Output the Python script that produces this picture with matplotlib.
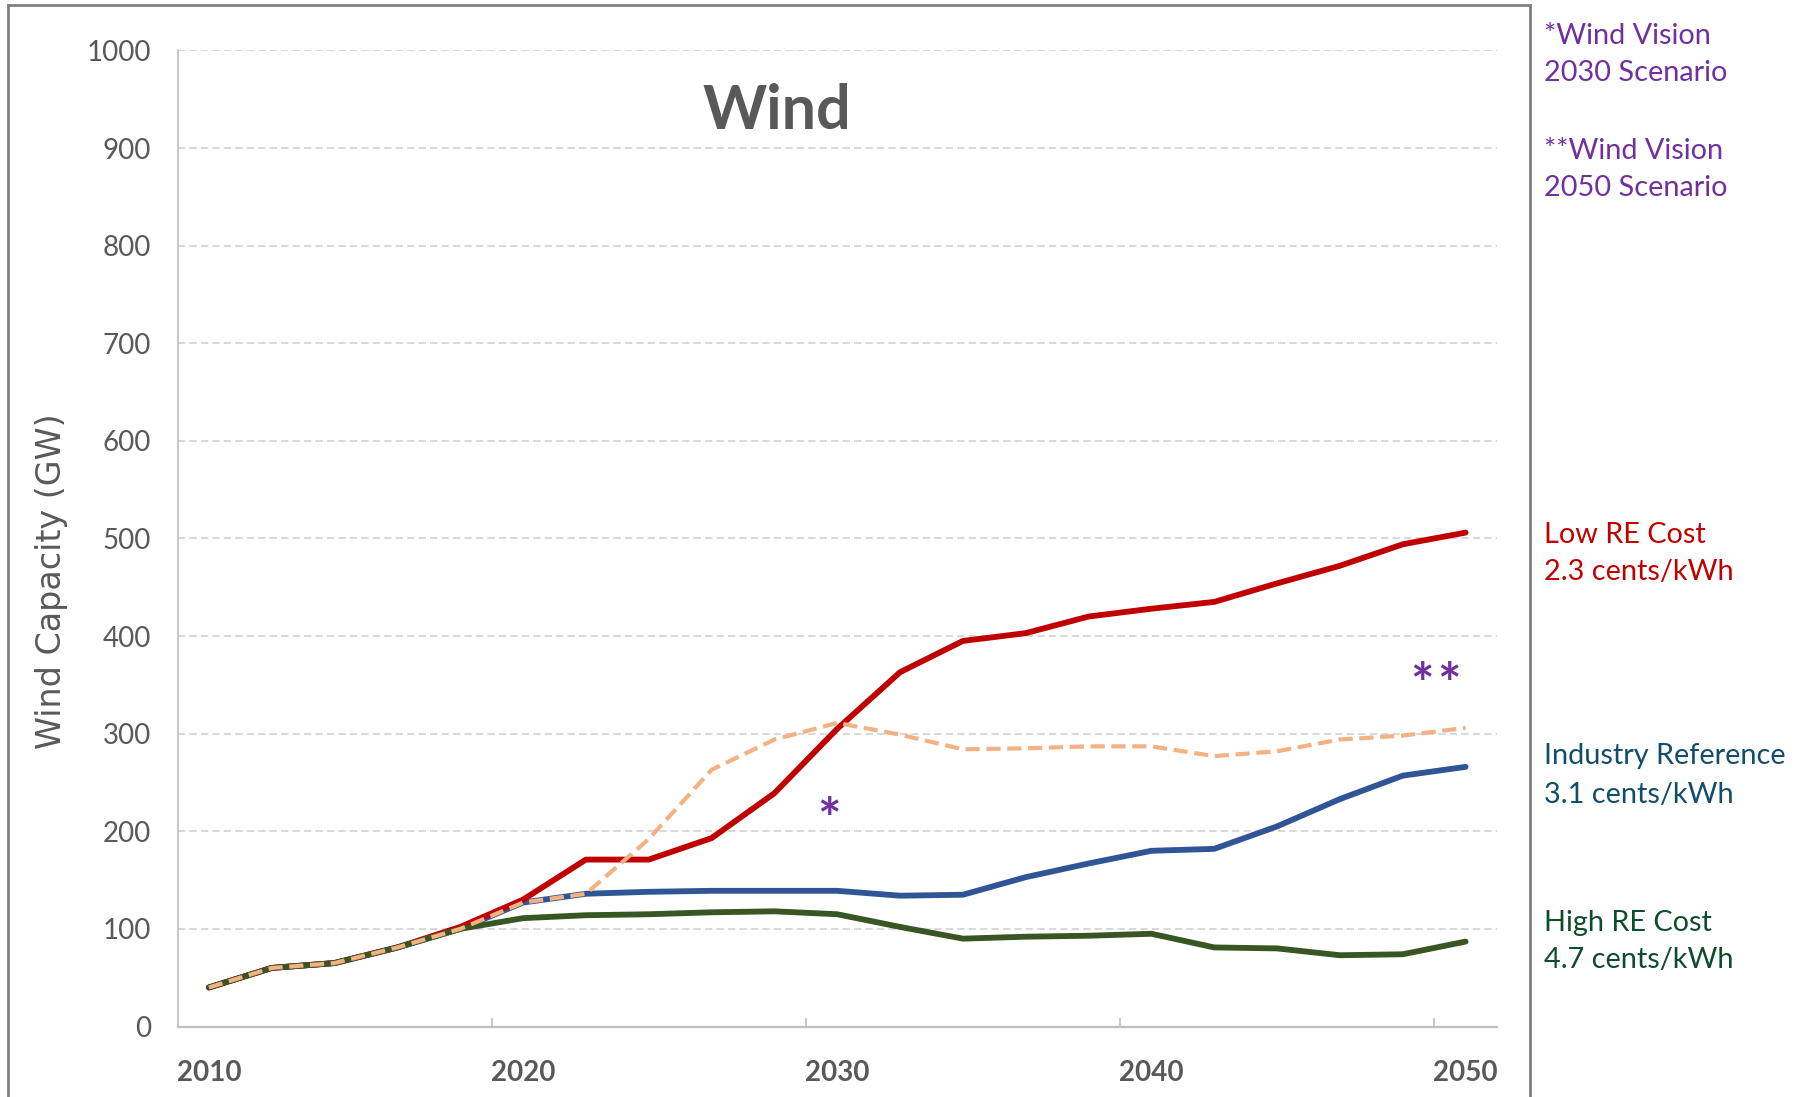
import matplotlib
matplotlib.use('Agg')
import matplotlib.pyplot as plt
from matplotlib.lines import Line2D

# ---- data -------------------------------------------------------------
years = list(range(2010, 2051, 2))
low_re_cost = [40, 60, 65, 81, 102, 130, 171, 171, 193, 239, 305, 363, 395, 403, 420, 428, 435, 454, 472, 494, 506]
industry_ref = [40, 60, 65, 81, 100, 127, 136, 138, 139, 139, 139, 134, 135, 153, 167, 180, 182, 205, 233, 257, 266]
high_re_cost = [40, 60, 65, 81, 100, 111, 114, 115, 117, 118, 115, 102, 90, 92, 93, 95, 81, 80, 73, 74, 87]
wind_vision = [40, 60, 65, 81, 100, 127, 136, 192, 263, 294, 311, 299, 284, 285, 287, 287, 277, 282, 294, 298, 306]

y_ticks = list(range(0, 1001, 100))
x_labels = [2010, 2020, 2030, 2040, 2050]
x_minor = [2019, 2029, 2039, 2049]

right_labels = [
    ("*Wind Vision", 43.6, '#7030A0'),
    ("2030 Scenario", 81.4, '#7030A0'),
    ("**Wind Vision", 159.0, '#7030A0'),
    ("2050 Scenario", 196.4, '#7030A0'),
    ("Low RE Cost", 542.7, '#C00000'),
    ("2.3 cents/kWh", 580.0, '#C00000'),
    ("Industry Reference", 764.0, '#124E6B'),
    ("3.1 cents/kWh", 802.7, '#124E6B'),
    ("High RE Cost", 930.7, '#0F4D2A'),
    ("4.7 cents/kWh", 968.3, '#0F4D2A'),
]

FONT = ['Lato', 'DejaVu Sans']
W, H = 1796, 1097
fig = plt.figure(figsize=(W / 100, H / 100), dpi=100)
fig.patch.set_facecolor('white')

ax = fig.add_axes([177.5 / W, 1 - 1026.5 / H, (1497 - 177.5) / W, (1026.5 - 50.4) / H])
ax.set_xlim(2009, 2051)
ax.set_ylim(0, 1000)

ax.set_yticks(y_ticks)
ax.yaxis.grid(True, color='#D9D9D9', linewidth=1.5, dashes=(3.5, 2))
ax.set_axisbelow(True)
ax.tick_params(axis='y', length=0, pad=19, labelsize=20, labelcolor='#595959')
for lab in ax.get_yticklabels():
    lab.set_family(FONT)

ax.set_xticks(x_labels)
ax.set_xticks(x_minor, minor=True)
ax.tick_params(axis='x', which='major', length=0, pad=24, labelsize=20, labelcolor='#595959')
ax.tick_params(axis='x', which='minor', direction='in', length=6.5, width=1.2, color='#BFBFBF')
for lab in ax.get_xticklabels():
    lab.set_family(FONT)
    lab.set_fontweight('bold')

for s in ('top', 'right'):
    ax.spines[s].set_visible(False)
ax.spines['left'].set_color('#BFBFBF')
ax.spines['left'].set_linewidth(1.2)
ax.spines['bottom'].set_color('#BFBFBF')
ax.spines['bottom'].set_linewidth(1.6)

lw = 4.2
ax.plot(years, industry_ref, color='#2F5597', lw=lw, solid_capstyle='round', solid_joinstyle='round', zorder=3)
ax.plot(years, low_re_cost, color='#C00000', lw=lw, solid_capstyle='round', solid_joinstyle='round', zorder=4)
ax.plot(years, high_re_cost, color='#375623', lw=lw, solid_capstyle='round', solid_joinstyle='round', zorder=5)
ax.plot(years, wind_vision, color='#F4B183', lw=3.0, dashes=(3.4, 1.6), zorder=6)

# scenario markers
ax.text(2029.73, 193, '*', ha='center', va='baseline', fontsize=40, fontweight='bold',
        color='#7030A0', family=FONT)
ax.text(2048.6, 331, '*', ha='center', va='baseline', fontsize=40, fontweight='bold',
        color='#7030A0', family=FONT)
ax.text(2049.46, 331, '*', ha='center', va='baseline', fontsize=40, fontweight='bold',
        color='#7030A0', family=FONT)

# title
fig.text(777 / W, 1 - 129.4 / H, 'Wind', ha='center', va='baseline', fontsize=44,
         fontweight='bold', color='#595959', family=FONT)

# y label
fig.text(52 / W, 1 - 581 / H, 'Wind Capacity (GW)', rotation=90, ha='center', va='center',
         fontsize=24, color='#595959', family=['DejaVu Sans'])

# right side labels
for txt, yb, col in right_labels:
    fig.text(1544 / W, 1 - yb / H, txt, ha='left', va='baseline', fontsize=20.8, color=col, family=FONT)

# outer chart border
bc = '#808080'
fig.add_artist(Line2D([8 / W, 8 / W], [0, 1 - 4.5 / H], transform=fig.transFigure, color=bc, lw=2))
fig.add_artist(Line2D([8 / W, 1530 / W], [1 - 4.5 / H, 1 - 4.5 / H], transform=fig.transFigure, color=bc, lw=2))
fig.add_artist(Line2D([1530 / W, 1530 / W], [0, 1 - 4.5 / H], transform=fig.transFigure, color=bc, lw=2))

fig.savefig('out.png', dpi=100, facecolor='white')
